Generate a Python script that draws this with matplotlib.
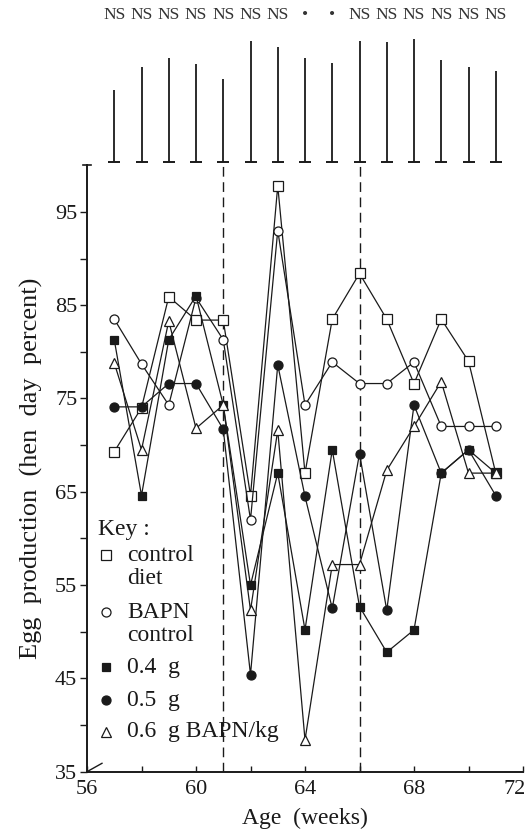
import matplotlib
matplotlib.use('Agg')
import matplotlib.pyplot as plt
from matplotlib.transforms import ScaledTranslation

plt.rcParams['font.family'] = ['Liberation Serif', 'DejaVu Serif']

# weekly egg production (hen day percent)
weeks = list(range(57, 72))
control_diet = [69.3, 74.0, 85.9, 83.4, 83.4, 64.6, 97.8, 67.0, 83.5, 88.4, 83.5, 76.6, 83.5, 79.0, 67.0]
bapn_control = [83.5, 78.7, 74.3, 85.8, 81.3, 62.0, 93.0, 74.3, 78.9, 76.6, 76.6, 78.9, 72.0, 72.0, 72.0]
bapn_04 = [81.3, 64.6, 81.3, 86.0, 74.3, 55.0, 67.0, 50.2, 69.5, 52.7, 47.8, 50.2, 67.0, 69.5, 67.0]
bapn_05 = [74.1, 74.1, 76.6, 76.6, 71.7, 45.4, 78.6, 64.5, 52.5, 69.1, 52.3, 74.3, 67.0, 69.5, 64.6]
bapn_06 = [78.8, 69.5, 83.3, 71.8, 74.3, 52.3, 71.6, 38.4, 57.2, 57.2, 67.3, 72.0, 76.8, 67.0, 67.0]

# bars above the plot (same units as the y axis) and significance marks
bar_length = [7.7, 10.2, 11.1, 10.5, 8.9, 13.0, 12.3, 11.1, 10.6, 13.0, 12.9, 13.2, 10.9, 10.2, 9.7]
significance = ['NS'] * 7 + ['\u2022', '\u2022'] + ['NS'] * 6
diet_changes = [61, 66]

key_labels = ['control\ndiet', 'BAPN\ncontrol', '0.4  g', '0.5  g', '0.6  g BAPN/kg']

fig = plt.figure(figsize=(5.26, 8.35), dpi=100)
ax = fig.add_axes([87 / 526, 63.3 / 835, 436 / 526, 606.5 / 835])

ink = '#1a1a1a'
series = [
    (control_diet, 's', 'white', 6.5),
    (bapn_control, 'o', 'white', 6.5),
    (bapn_04, 's', ink, 6.0),
    (bapn_05, 'o', ink, 6.5),
    (bapn_06, '^', 'white', 7.5),
]
for vals, mk, fc, ms in series:
    ax.plot(weeks, vals, color=ink, lw=0.9, marker=mk, ms=ms,
            mfc=fc, mec=ink, mew=0.9, zorder=3)

for x in diet_changes:
    ax.axvline(x, color=ink, lw=1.0, ls=(0, (7, 4)), zorder=1)

ax.set_xlim(56, 72)
ax.set_ylim(35, 100)

# bars and NS row above the axes
bar_base = 100.35
tops = [bar_base + l for l in bar_length]
ax.vlines(weeks, bar_base, tops, color=ink, lw=1.3, clip_on=False)
ax.plot(weeks, [bar_base] * len(weeks), ls='none', marker='_', ms=9,
        mew=1.4, color=ink, clip_on=False)
for x, s in zip(weeks, significance):
    ax.text(x, 116.1, s, ha='center', va='center', fontsize=12.5, color='#333333')

# small cap at the top of the y axis and break mark at the origin
ax.plot([55.87, 56.13], [100, 100], color=ink, lw=1.2, clip_on=False)
ax.plot([56, 56.55], [35, 35.9], color=ink, lw=1.0, clip_on=False)

for sp in ['top', 'right']:
    ax.spines[sp].set_visible(False)
for sp in ['left', 'bottom']:
    ax.spines[sp].set_linewidth(1.4)
    ax.spines[sp].set_color(ink)

ax.set_xticks([56, 60, 64, 68, 72])
ax.set_xticks([58, 62, 66, 70], minor=True)
ax.set_yticks(range(35, 100, 10))
ax.set_yticks(range(40, 100, 10), minor=True)
ax.tick_params(axis='x', which='both', direction='in', length=4, width=1, labelsize=16, pad=6, colors=ink)
ax.tick_params(axis='y', which='both', direction='out', length=5, width=1, labelsize=16, pad=2, colors=ink)

# keep the last x label inside the picture
last = ax.get_xticklabels()[-1]
last.set_horizontalalignment('right')
last.set_transform(last.get_transform() + ScaledTranslation(3 / 100, 0, fig.dpi_scale_trans))

ax.set_xlabel('Age  (weeks)', fontsize=17, labelpad=6, color=ink)
ax.set_ylabel('Egg  production  (hen  day  percent)', fontsize=19, labelpad=9, color=ink)

# key
ax.text(0.025, 0.399, 'Key :', transform=ax.transAxes, fontsize=17, va='center', ha='left', color=ink)
key_y = [0.357, 0.263, 0.1726, 0.118, 0.0655]
line_step = 0.038
for (vals, mk, fc, ms), lab, y in zip(series, key_labels, key_y):
    ax.plot([0.044], [y], transform=ax.transAxes, marker=mk, ms=ms, mfc=fc,
            mec=ink, mew=0.9, ls='none', clip_on=False)
    for i, part in enumerate(lab.split('\n')):
        ax.text(0.092, y - i * line_step, part, transform=ax.transAxes, fontsize=17,
                va='center', ha='left', color=ink)

fig.savefig('out.png', dpi=100)
